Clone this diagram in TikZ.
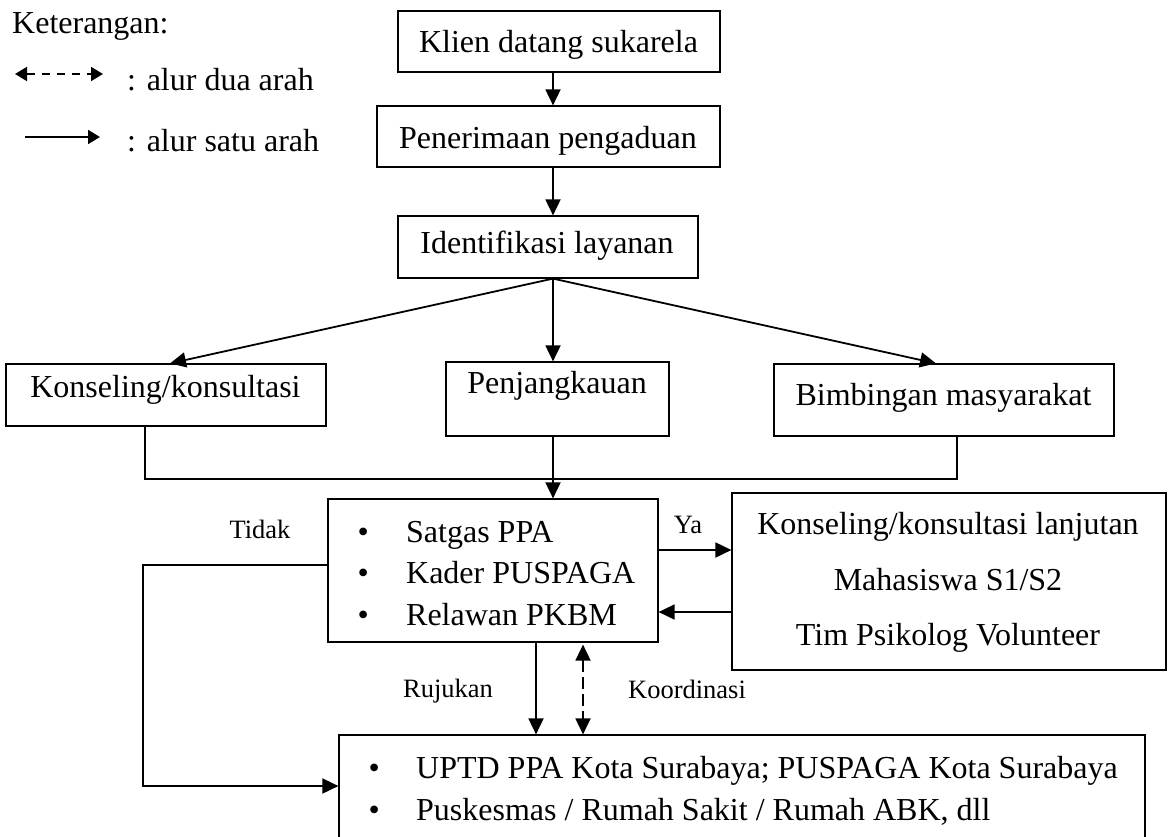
\documentclass[tikz,border=0pt]{standalone}
\usepackage{fontspec}
\setmainfont{Liberation Serif}
\usetikzlibrary{arrows.meta}
\begin{document}
\begin{tikzpicture}[x=1pt,y=-1pt,
  box/.style={draw, line width=1.2pt, inner sep=0pt},
  txt/.style={inner sep=0pt, font=\fontsize{32}{38}\selectfont},
  lbl/.style={inner sep=0pt, font=\fontsize{26.5}{32}\selectfont},
  conn/.style={line width=1.8pt},
  arr/.style={conn, -{Triangle[length=16pt,width=15pt]}},
  darr/.style={conn, dash pattern=on 12pt off 5pt, {Triangle[length=16pt,width=15pt]}-{Triangle[length=16pt,width=15pt]}},
  legarr/.style={conn, -{Triangle[length=12pt,width=14pt]}},
  legdarr/.style={conn, dash pattern=on 8pt off 7pt, {Triangle[length=12pt,width=14pt]}-{Triangle[length=12pt,width=14pt]}},
]
\clip (0,0) rectangle (1174,836);

% legend
\node[txt, anchor=base west] (ket) at (12,33) {Keterangan:};
\coordinate (l1a) at (15,74);
\coordinate (l1b) at (103,74);
\draw[legdarr] (l1a) -- (l1b);
\node[txt, anchor=base west] (ket1) at (127,90) {: alur dua arah};
\coordinate (l2a) at (25,137);
\coordinate (l2b) at (100,137);
\draw[legarr] (l2a) -- (l2b);
\node[txt, anchor=base west] (ket2) at (127,151) {: alur satu arah};

% boxes
\node[box, minimum width=322pt, minimum height=61pt] (klien) at (559,41.5) {};
\node[box, minimum width=343pt, minimum height=61pt] (terima) at (548.5,136.5) {};
\node[box, minimum width=300pt, minimum height=62pt] (ident) at (548,247) {};
\node[box, minimum width=320pt, minimum height=62pt] (kons) at (166,395) {};
\node[box, minimum width=223pt, minimum height=74pt] (penj) at (557.5,399) {};
\node[box, minimum width=340pt, minimum height=72pt] (bimb) at (944,400) {};
\node[box, minimum width=330pt, minimum height=143pt] (satgas) at (493,570.5) {};
\node[box, minimum width=434pt, minimum height=177pt] (lanjut) at (949,581.5) {};
\node[box, minimum width=806pt, minimum height=125pt] (rujuk) at (742,797.5) {};

% texts
\node[txt, anchor=base] (tklien) at (558.5,52) {Klien datang sukarela};
\node[txt, anchor=base] (tterima) at (548,148) {Penerimaan pengaduan};
\node[txt, anchor=base] (tident) at (547,253) {Identifikasi layanan};
\node[txt, anchor=base] (tkons) at (165.5,397) {Konseling/konsultasi};
\node[txt, anchor=base] (tpenj) at (557,393) {Penjangkauan};
\node[txt, anchor=base] (tbimb) at (943.5,405) {Bimbingan masyarakat};

\node[txt, anchor=base west] (s1) at (357.4,542) {\makebox[48.6pt][l]{\textbullet}Satgas PPA};
\node[txt, anchor=base west] (s2) at (357.4,583) {\makebox[48.6pt][l]{\textbullet}Kader PUSPAGA};
\node[txt, anchor=base west] (s3) at (357.4,625) {\makebox[48.6pt][l]{\textbullet}Relawan PKBM};

\node[txt, anchor=base] (l1) at (948,534) {Konseling/konsultasi lanjutan};
\node[txt, anchor=base] (l2) at (948,590) {Mahasiswa S1/S2};
\node[txt, anchor=base] (l3) at (948,645) {Tim Psikolog Volunteer};

\node[txt, anchor=base west] (r1) at (368.4,778) {\makebox[47.6pt][l]{\textbullet}UPTD PPA Kota Surabaya; PUSPAGA Kota Surabaya};
\node[txt, anchor=base west] (r2) at (368.4,820) {\makebox[47.6pt][l]{\textbullet}Puskesmas / Rumah Sakit / Rumah ABK, dll};

% labels
\node[lbl, anchor=base] (tidak) at (260,538) {Tidak};
\node[lbl, anchor=base] (ya) at (688,533) {Ya};
\node[lbl, anchor=base] (rujukan) at (448,697) {Rujukan};
\node[lbl, anchor=base] (koord) at (687,698) {Koordinasi};

% helper coordinates
\coordinate (spine) at (553,0);
\coordinate (join) at (553,479);
\coordinate (lbend) at (143,700);
\coordinate (rujx) at (536,0);
\coordinate (koox) at (583,0);

% connectors
\draw[arr] (klien.south -| spine) -- (terima.north -| spine);
\draw[arr] (terima.south -| spine) -- (ident.north -| spine);
\draw[arr] (ident.south -| spine) -- ([xshift=4pt]kons.north);
\draw[arr] (ident.south -| spine) -- (penj.north -| spine);
\draw[arr] (ident.south -| spine) -- ([xshift=-8pt]bimb.north);

\draw[conn] ([xshift=-21pt]kons.south) |- (join);
\draw[conn] ([xshift=13pt]bimb.south) |- (join);
\draw[arr] (penj.south -| spine) -- (satgas.north -| spine);

\draw[arr] ([yshift=20.5pt]satgas.east) -- ([yshift=20.5pt]satgas.east -| lanjut.west);
\draw[arr] ([yshift=-30.5pt]lanjut.west) -- ([yshift=-30.5pt]lanjut.west -| satgas.east);

\draw[arr] ([yshift=5.5pt]satgas.west) -| (lbend) |- ([yshift=11.5pt]rujuk.west);

\draw[arr] (satgas.south -| rujx) -- (rujuk.north -| rujx);
\draw[darr] ([yshift=-2pt]satgas.south -| koox) -- (rujuk.north -| koox);
\end{tikzpicture}
\end{document}
